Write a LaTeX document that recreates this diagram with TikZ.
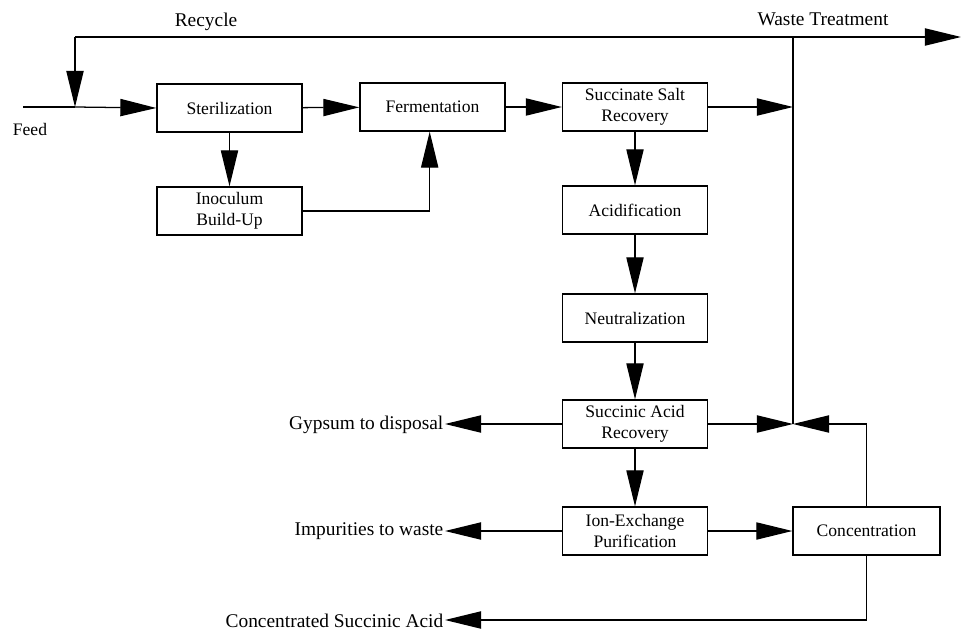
\documentclass[tikz,border=0pt]{standalone}
\usepackage{fontspec}
\setmainfont{Liberation Serif}
\usetikzlibrary{arrows.meta}

\tikzset{
  procbox/.style={draw, line width=0.9pt, minimum width=3.625cm, minimum height=1.2cm,
    align=center, inner sep=1pt, font=\fontsize{12.5}{15}\selectfont},
  streamtext/.style={inner sep=1pt, font=\fontsize{13.8}{16}\selectfont},
  flow/.style={line width=0.9pt, -{Triangle[length=9mm,width=4.3mm]}},
  pipe/.style={line width=0.9pt}
}

\begin{document}
\begin{tikzpicture}[x=0.025cm, y=-0.025cm]
              \useasboundingbox (0,0) rectangle (962,632);

              % process units
              \node[procbox] (steril)  at (229.5,108) {Sterilization};
              \node[procbox] (inoc)    at (229.5,211) {Inoculum\\Build-Up};
              \node[procbox] (ferment) at (432.5,107) {Fermentation};
              \node[procbox] (saltrec) at (635,107)   {Succinate Salt\\Recovery};
              \node[procbox] (acidif)  at (635,210)   {Acidification};
              \node[procbox] (neutral) at (635,318)   {Neutralization};
              \node[procbox] (acidrec) at (635,424)   {Succinic Acid\\Recovery};
              \node[procbox] (ionex)   at (635,531)   {Ion-Exchange\\Purification};
              \node[procbox, minimum width=3.675cm] (concen) at (866.5,531) {Concentration};

              % stream texts
              \node[streamtext] (recycle) at (206,22)  {Recycle};
              \node[streamtext] (waste)   at (823,19)  {Waste Treatment};
              \node[streamtext, font=\fontsize{12.5}{15}\selectfont] (feed) at (30,129) {Feed};
              \node[streamtext, anchor=east] (gypsum)  at (445,425) {Gypsum to disposal};
              \node[streamtext, anchor=east] (impur)   at (445,531) {Impurities to waste};
              \node[streamtext, anchor=east] (product) at (445,621) {Concentrated Succinic Acid};

              \coordinate (feedin) at (23,107);
              \coordinate (rc)     at (75,37);
              \coordinate (rcin)   at (75,107);
              \coordinate (wtout)  at (961,37);
              \coordinate (jtop)   at (793,37);
              \coordinate (jsalt)  at (793,107);
              \coordinate (jmid)   at (793,424);

              \draw[pipe] (feedin) -- (rcin);
              \path (rcin)          edge[flow] (steril.west)
              (steril)              edge[flow] (ferment)
              (ferment)             edge[flow] (saltrec)
              (saltrec)             edge[flow] (jsalt)
              (steril)              edge[flow] (inoc)
              (saltrec)             edge[flow] (acidif)
              (acidif)              edge[flow] (neutral)
              (neutral)             edge[flow] (acidrec)
              (acidrec)             edge[flow] (ionex)
              (acidrec.east)        edge[flow] (jmid)
              (acidrec.west)        edge[flow] (gypsum.east |- acidrec.west)
              (ionex)               edge[flow] (impur)
              (ionex)               edge[flow] (concen)
              (rc)                  edge[flow] (wtout)
              (rc)                  edge[flow] (rcin);

              \draw[pipe] (jmid) -- (jtop);
              \draw[flow] (inoc.east) -| ([xshift=-2]ferment.south);
              \draw[flow] (concen.north) |- (jmid);
              \draw[flow] (concen.south) |- (product.east |- 0,620);
            \end{tikzpicture}
\end{document}
